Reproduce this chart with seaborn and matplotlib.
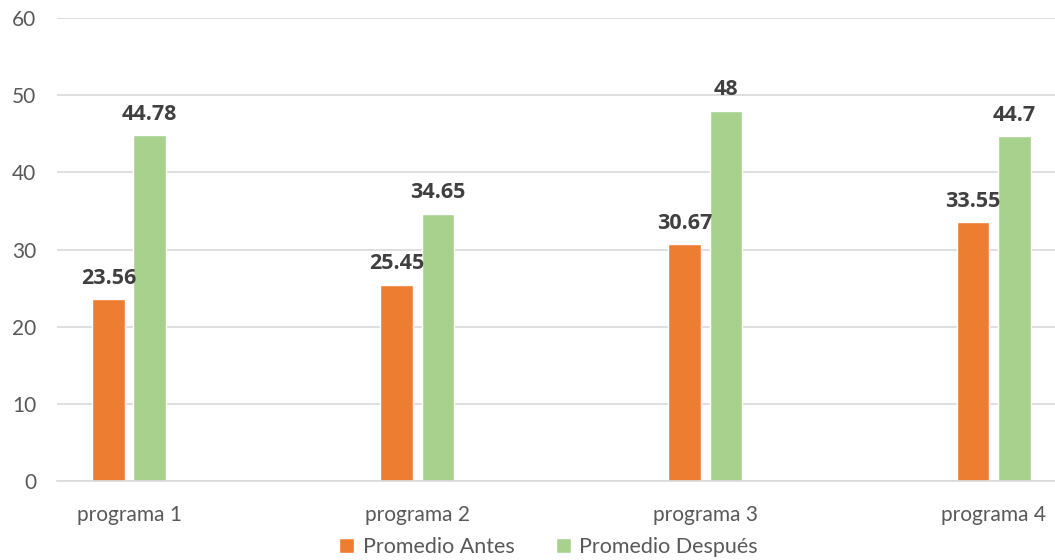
import pandas as pd
import matplotlib
matplotlib.use("Agg")
import matplotlib.pyplot as plt
import seaborn as sns

# Datos del gráfico
programas = ["programa 1", "programa 2", "programa 3", "programa 4"]
promedio_antes = [23.56, 25.45, 30.67, 33.55]
promedio_despues = [44.78, 34.65, 48, 44.7]
series = ["Promedio Antes", "Promedio Después"]
y_ticks = [0, 10, 20, 30, 40, 50, 60]

dados = pd.DataFrame({
    "programa": programas * 2,
    "valor": promedio_antes + promedio_despues,
    "serie": [series[0]] * len(programas) + [series[1]] * len(programas),
})

sns.set_style("white")
plt.rcParams["font.family"] = ["Lato", "DejaVu Sans"]

gris_texto = "#595959"
gris_grid = "#D9D9D9"
colores = ["#ED7D31", "#A9D18E"]

fig = plt.figure(figsize=(10.55, 5.6), dpi=100)
ax = fig.add_axes([57 / 1055, 1 - 481 / 560, 1 - 57 / 1055, (481 - 18) / 560])

sns.barplot(data=dados, x="programa", y="valor", hue="serie", palette=colores,
            width=0.287, gap=0.21, saturation=1, ax=ax, legend=True)

# Etiquetas de datos (en negrita)
for cont in ax.containers:
    vals = [b.get_height() for b in cont]
    ax.bar_label(cont, labels=[f"{v:g}" for v in vals], padding=7.5,
                 fontsize=15.5, fontweight="bold", color="#404040",
                 family=["Open Sans", "DejaVu Sans"])

ax.set_xlim(-0.25, 3.213)
ax.set_ylim(0, 60)
ax.set_yticks(y_ticks)
ax.yaxis.grid(True, color=gris_grid, linewidth=1.2)
ax.set_axisbelow(True)
for s in ["top", "right", "left"]:
    ax.spines[s].set_visible(False)
ax.spines["bottom"].set_color(gris_grid)
ax.spines["bottom"].set_linewidth(1.2)
ax.tick_params(axis="y", length=0, pad=15, labelsize=15, labelcolor=gris_texto)
ax.tick_params(axis="x", length=0, pad=17, labelsize=15, labelcolor=gris_texto)
ax.set_xlabel("")
ax.set_ylabel("")

handles, labels = ax.get_legend_handles_labels()
ax.get_legend().remove()
fig.legend(handles, labels, loc="lower center", bbox_to_anchor=(0.52, -0.03), ncol=2,
           frameon=False, fontsize=15.5, labelcolor=gris_texto, handlelength=0.7,
           handleheight=0.7, handletextpad=0.4, columnspacing=1.9)

fig.savefig("out.png", dpi=100)
